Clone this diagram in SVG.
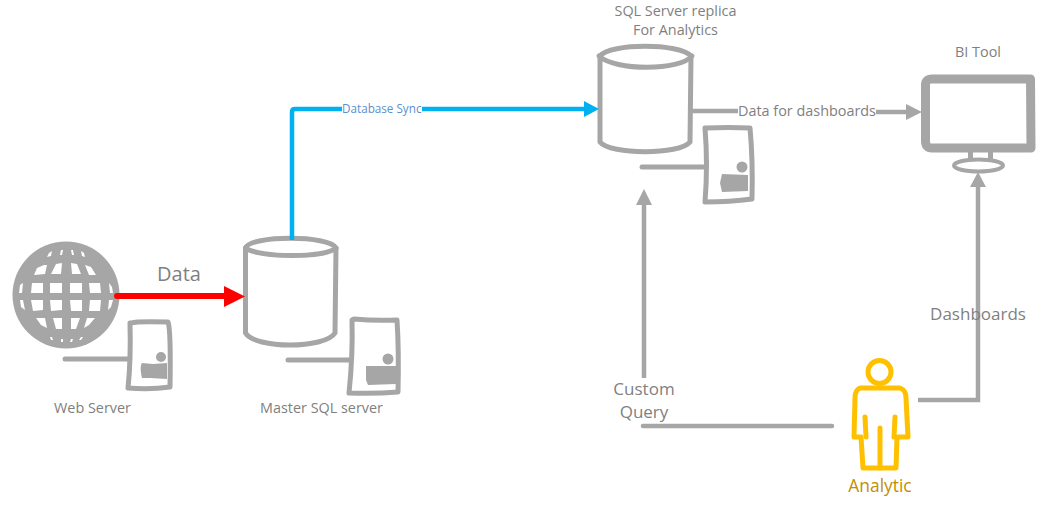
<svg xmlns="http://www.w3.org/2000/svg" width="1051" height="523" viewBox="0 0 1051 523">
<style>
.s{fill:none;stroke:#a6a6a6;stroke-width:5;stroke-linecap:round;stroke-linejoin:round}
.c{fill:none;stroke:#a6a6a6;stroke-width:4.5}
.g{fill:#a6a6a6}
.b{fill:none;stroke:#00b0f0;stroke-width:4.5}
.y{fill:none;stroke:#ffc000;stroke-width:5;stroke-linecap:round;stroke-linejoin:round}
text{font-family:"Open Sans","Noto Sans","Liberation Sans",sans-serif;fill:#7f7f7f;text-anchor:middle;font-size:14.4px}
.m{font-size:17px}
</style>
<rect width="1051" height="523" fill="#fff"/>
<g id="web-server">
<circle class="g" cx="66" cy="295" r="53.500"/>
<g fill="#fff">
<path d="M49 253L52 251L51 256L47 257Z M61 250L63 250L62 255L60 255Z M71 250L73 250L74 255L72 255Z M81 251L84 253L85 257L82 256Z"/>
<path d="M37 268L44 265L47 265L45 274L34 275Z M56 264L62 263L61 274L51 274Z M71 263L77 264L81 274L72 274Z M85 265L91 267L96 275L89 275Z"/>
<path d="M32 283L43 283L43 293L31 293Z M50 283L62 283L62 293L50 293Z M70 283L82 283L82 293L70 293Z M89 283L100 283L101 293L90 293Z"/>
<path d="M31 300L43 300L43 310L33 311Z M50 300L62 300L62 310L51 311Z M70 300L82 300L82 311L71 311Z M90 300L101 300L100 311L89 311Z"/>
<path d="M36 318L45 318L47 328L41 325Z M53 318L62 318L62 329L56 329Z M71 318L80 318L76 329L71 329Z M87 318L95 318L89 325L84 328Z"/>
<path d="M20 285L23 283L22 293L19 293Z M109 283L112 287L113 293L110 293Z M20 300L23 300L25 310L21 307Z M109 300L113 300L111 307L108 310Z"/>
<path d="M50 337L52 337L53 340L51 340Z M61 339L63 339L63 342L61 342Z M71 339L73 339L72 342L70 342Z M81 337L83 337L81 340L79 340Z"/>
</g>
</g>
<g id="web-server-box">
<path class="s" d="M65 359H128"/>
<path class="s" d="M131 323Q137 321 168 322Q171 330 170 387Q150 390 128 388Q131 360 130 323Z"/>
<circle class="g" cx="161" cy="357" r="5"/>
<path class="g" d="M142 363L153 364L167 363V379L150 378H142Q140 370 141 365Z"/>
<text x="92.500" y="413">Web Server</text>
</g>
<g id="master-sql">
<path d="M245.500 248C250 235 330 235 336 248L335 333C325 349 255 349 245.500 333Z" fill="#fff" stroke="#a6a6a6" stroke-width="5" stroke-linejoin="round"/>
<path class="s" d="M245.500 248C260 258 325 258 336 248"/>
<path class="s" d="M288 360H350"/>
<path class="s" d="M354 319Q375 321 397 320Q399 350 398 392Q375 394 349 393Q353 355 352 320Z"/>
<circle class="g" cx="388" cy="359" r="5.500"/>
<path class="g" d="M366 366L396 366V384L368 385L366 380Z"/>
<text x="321.500" y="413">Master SQL server</text>
</g>
<g id="replica-sql">
<path d="M600 56C610 43 680 43 691 56L690 142C680 155 610 155 600 142Z" fill="#fff" stroke="#a6a6a6" stroke-width="5" stroke-linejoin="round"/>
<path class="s" d="M599 56C615 71 680 71 692 56"/>
<path class="s" d="M642 167H703"/>
<path class="s" d="M705 128Q730 127 750 128Q753 160 752 199Q730 202 705 202Q708 165 705 128Z"/>
<circle class="g" cx="742" cy="167" r="5.500"/>
<path class="g" d="M722 174L748 175V191L722 192L720 183Z"/>
<text x="675.500" y="16">SQL Server replica</text>
<text x="675.500" y="35">For Analytics</text>
</g>
<g id="bi-tool">
<path d="M925.500 85Q925.500 79 932 79H1030.500L1031 148H932Q925.500 148 925.500 141Z" fill="none" stroke="#a6a6a6" stroke-width="9" stroke-linejoin="round"/>
<path class="g" d="M968 152H973V160H968Z M988 152H993V160H988Z"/>
<ellipse cx="978.500" cy="165.500" rx="24.500" ry="6" fill="none" stroke="#a6a6a6" stroke-width="4"/>
<text x="978" y="57">BI Tool</text>
</g>
<g id="analytic">
<circle class="y" cx="879.500" cy="372" r="11.500"/>
<path class="y" d="M860 388H900Q906 390 906 398L908 437H897L896 468H863L861 437H854L855 398Q855 390 860 388Z"/>
<path class="y" d="M865 417L866 437M895 417L894 437M880 428V468"/>
<text x="880" y="492" style="font-size:17.400px;fill:#bf9000">Analytic</text>
</g>
<g id="connectors">
<path class="b" d="M292 240V112Q292 109 295 109H342"/>
<path class="b" d="M422 109H586"/>
<path d="M584 101L599 109L584 117Z" fill="#00b0f0"/>
<path d="M117 296H226" fill="none" stroke="#f00" stroke-width="6" stroke-linecap="round"/>
<path d="M224 286L245 296.500L224 307Z" fill="#f00"/>
<path class="c" d="M692 111H738"/>
<path class="c" d="M876 112H908"/>
<path class="g" d="M906 104L922 112L906 120Z"/>
<path class="c" d="M644 378V204"/>
<path class="g" d="M636 205L644 189L652 205Z"/>
<path class="c" d="M643 426H832" stroke-linecap="round"/>
<path class="c" d="M918 400H978V186"/>
<path class="g" d="M970 187L978 172L986 187Z"/>
<text x="342" y="112.500" style="text-anchor:start;font-size:11.700px;fill:#5b8fd0">Database Sync</text>
<text x="179" y="281" style="font-size:20px">Data</text>
<text x="807" y="116">Data for dashboards</text>
<text x="978" y="320" class="m">Dashboards</text>
<text x="644" y="395" class="m">Custom</text>
<text x="644" y="418" class="m">Query</text>
</g>
</svg>
